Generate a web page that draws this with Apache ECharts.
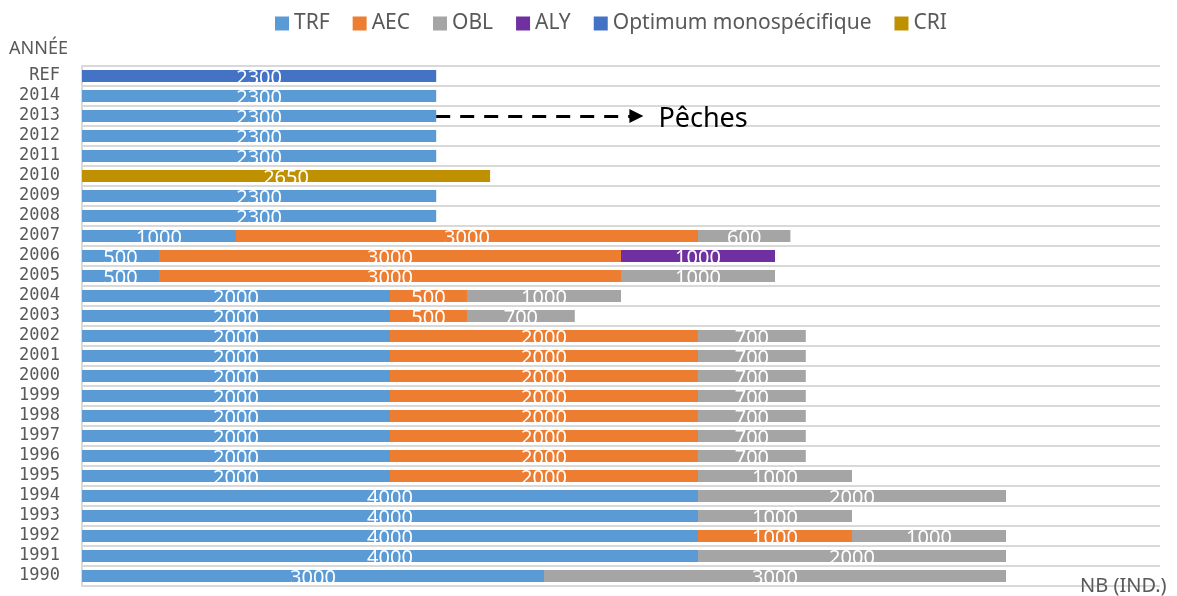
<!DOCTYPE html>
<html>
<head>
<meta charset="utf-8">
<script src="https://cdn.jsdelivr.net/npm/echarts@6/dist/echarts.min.js"></script>
<style>
  html, body { margin: 0; padding: 0; background: #fff; }
  #chart { width: 1177px; height: 596px; }
</style>
</head>
<body>
<div id="chart"></div>
<script>
// années, de bas en haut
const annees = ['1990','1991','1992','1993','1994','1995','1996','1997','1998','1999','2000',
  '2001','2002','2003','2004','2005','2006','2007','2008','2009','2010','2011','2012','2013','2014','REF'];

const trf = [3000,4000,4000,4000,4000,2000,2000,2000,2000,2000,2000,
  2000,2000,2000,2000,500,500,1000,2300,2300,null,2300,2300,2300,2300,null];
const aec = [null,null,1000,null,null,2000,2000,2000,2000,2000,2000,
  2000,2000,500,500,3000,3000,3000,null,null,null,null,null,null,null,null];
const obl = [3000,2000,1000,1000,2000,1000,700,700,700,700,700,
  700,700,700,1000,1000,null,600,null,null,null,null,null,null,null,null];
const aly = [null,null,null,null,null,null,null,null,null,null,null,
  null,null,null,null,null,1000,null,null,null,null,null,null,null,null,null];
const optimum = [null,null,null,null,null,null,null,null,null,null,null,
  null,null,null,null,null,null,null,null,null,null,null,null,null,null,2300];
const cri = [null,null,null,null,null,null,null,null,null,null,null,
  null,null,null,null,null,null,null,null,null,2650,null,null,null,null,null];

// flèche "Pêches" (de la fin de la barre 2013 vers la droite)
const pechesDebut = 2300;
const pechesFin = 3600;

const chart = echarts.init(document.getElementById('chart'));

function serie(name, data, color) {
  return {
    name: name,
    type: 'bar',
    stack: 'total',
    data: data,
    barWidth: 12,
    itemStyle: { color: color },
    label: {
      show: true,
      position: 'inside',
      color: '#fff',
      fontSize: 20,
      fontFamily: 'Noto Sans',
      offset: [0, 2]
    }
  };
}

const series = [
  serie('TRF', trf, '#5B9BD5'),
  serie('AEC', aec, '#ED7D31'),
  serie('OBL', obl, '#A5A5A5'),
  serie('ALY', aly, '#7030A0'),
  serie('Optimum monospécifique', optimum, '#4472C4'),
  serie('CRI', cri, '#BF9000')
];

series[0].markLine = {
  silent: true,
  symbol: ['none', 'triangle'],
  symbolSize: [14, 14],
  lineStyle: { color: '#000', type: [14, 10], width: 3 },
  label: {
    show: true,
    position: 'end',
    formatter: 'Pêches',
    color: '#000',
    fontSize: 27,
    fontFamily: 'Noto Sans',
    distance: 22,
    offset: [0, 3]
  },
  data: [[{ coord: [pechesDebut, '2013'] }, { coord: [pechesFin, '2013'] }]]
};

chart.setOption({
  animation: false,
  textStyle: { fontFamily: 'Noto Sans' },
  legend: {
    top: 8,
    left: 270,
    itemWidth: 14,
    itemHeight: 14,
    itemGap: 23,
    icon: 'rect',
    textStyle: { color: '#595959', fontSize: 21, fontFamily: 'Noto Sans' }
  },
  grid: { left: 82, right: 17, top: 66, bottom: 5 },
  xAxis: {
    type: 'value',
    min: 0,
    max: 7000,
    axisLabel: { show: false },
    axisLine: { show: false },
    axisTick: { show: false },
    splitLine: { show: false },
    name: 'NB (IND.)',
    nameLocation: 'end',
    nameGap: -80,
    nameTextStyle: { color: '#595959', fontSize: 20, align: 'left', padding: [0, 0, 10, 0] }
  },
  yAxis: {
    type: 'category',
    data: annees,
    axisLine: { show: true, lineStyle: { color: '#d9d9d9', width: 2 } },
    axisTick: { show: false },
    splitLine: { show: true, interval: 0, lineStyle: { color: '#d9d9d9', width: 2 } },
    axisLabel: { interval: 0, color: '#595959', fontSize: 17, fontFamily: 'DejaVu Sans Mono', margin: 22 },
    name: 'ANNÉE',
    nameLocation: 'end',
    nameGap: 8,
    nameTextStyle: { color: '#595959', fontSize: 18, align: 'right', padding: [0, 14, 0, 0] }
  },
  series: series
});
</script>
</body>
</html>
